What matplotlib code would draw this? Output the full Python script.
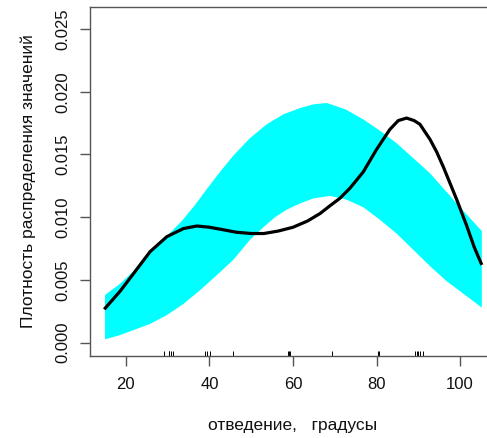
import numpy as np
import matplotlib
matplotlib.use("Agg")
import matplotlib.pyplot as plt

plt.rcParams['font.family'] = ['Liberation Sans', 'DejaVu Sans']

# density estimate (black curve)
dens_x = [14.8, 18.6, 21.8, 25.8, 29.8, 33.8, 37.0, 40.0, 43.3, 46.5, 50.0, 53.0,
          56.5, 60.0, 63.5, 66.5, 68.8, 71.2, 73.6, 76.8, 80.0, 83.2, 85.2, 87.2,
          89.0, 90.4, 92.8, 94.4, 96.0, 97.6, 99.2, 101.6, 103.4, 105.2]
dens_y = [0.00266, 0.0041, 0.0055, 0.00726, 0.00845, 0.0091, 0.0093, 0.0092,
          0.0090, 0.0088, 0.0087, 0.0087, 0.0089, 0.0092, 0.0097, 0.0103, 0.0109,
          0.0115, 0.0123, 0.0136, 0.0154, 0.0170, 0.0177, 0.0179, 0.0177, 0.0174,
          0.0162, 0.0152, 0.0140, 0.0127, 0.0114, 0.0093, 0.0076, 0.0062]

# reference band (cyan)
band_up_x = [15.0, 18.6, 21.8, 25.8, 29.8, 33.4, 36.6, 39.5, 42.5, 45.7, 49.7, 53.7,
             57.7, 61.7, 65.0, 68.1, 72.5, 76.8, 80.8, 84.8, 88.8, 92.8, 96.8, 100.8, 105.2]
band_up_y = [0.0038, 0.0047, 0.0057, 0.0072, 0.0085, 0.0097, 0.0110, 0.0123, 0.0136,
             0.0149, 0.0163, 0.0174, 0.0182, 0.0187, 0.0190, 0.0191, 0.0186, 0.0178,
             0.0169, 0.0159, 0.0147, 0.0135, 0.0120, 0.0105, 0.0089]
band_lo_x = [15.0, 18.5, 21.8, 25.8, 29.8, 33.8, 37.8, 41.8, 45.7, 49.7, 52.9, 55.7,
             58.5, 61.7, 64.9, 68.9, 72.8, 76.8, 80.8, 84.8, 88.8, 92.8, 96.8, 100.8, 105.2]
band_lo_y = [0.00027, 0.0006, 0.0010, 0.0015, 0.0022, 0.0031, 0.0042, 0.0054, 0.0066,
             0.0082, 0.0092, 0.0100, 0.0106, 0.0111, 0.0115, 0.0117, 0.0114, 0.0108,
             0.0098, 0.0087, 0.0074, 0.0061, 0.0049, 0.0039, 0.0028]

# observations (rug)
rug = [29.2, 30.2, 30.4, 30.7, 31.2, 39.0, 39.5, 40.2, 45.7, 58.9, 59.1, 59.4,
       69.3, 80.3, 80.7, 89.2, 89.6, 90.0, 90.4, 91.1]

xticks = [20, 40, 60, 80, 100]
yticks = [0.000, 0.005, 0.010, 0.015, 0.020, 0.025]

fig = plt.figure(figsize=(4.87, 4.38), dpi=100)
ax = fig.add_axes([0.1848, 0.1872, 0.8337, 0.7968])

ax.fill(band_up_x + band_lo_x[::-1], band_up_y + band_lo_y[::-1],
        color='#00ffff', lw=0)
ax.plot(dens_x, dens_y, color='black', lw=2.3, solid_capstyle='butt',
        solid_joinstyle='round')
ax.vlines(rug, 0, 0.014, transform=ax.get_xaxis_transform(), color='black', lw=0.7)

ax.set_xlim(11.4, 108.6)
ax.set_ylim(-0.00106, 0.02675)
ax.set_xticks(xticks)
ax.set_xticklabels([str(t) for t in xticks])
ax.set_yticks(yticks)
ax.set_yticklabels(["%.3f" % t for t in yticks], rotation=90, va='center')

for side in ['left', 'bottom', 'top']:
    ax.spines[side].set_color('#555555')
    ax.spines[side].set_linewidth(1.0)
ax.spines['right'].set_visible(False)
ax.tick_params(axis='both', length=7, width=1.0, color='#555555',
               labelsize=12, labelcolor='#111111')
ax.tick_params(axis='x', pad=8)
ax.tick_params(axis='y', pad=7)

ax.set_xlabel("отведение,   градусы", fontsize=12.5, labelpad=19, color='#111111')
ax.set_ylabel("Плотность распределения значений", fontsize=12.5, labelpad=14, color='#111111')

fig.savefig("out.png", dpi=100)
